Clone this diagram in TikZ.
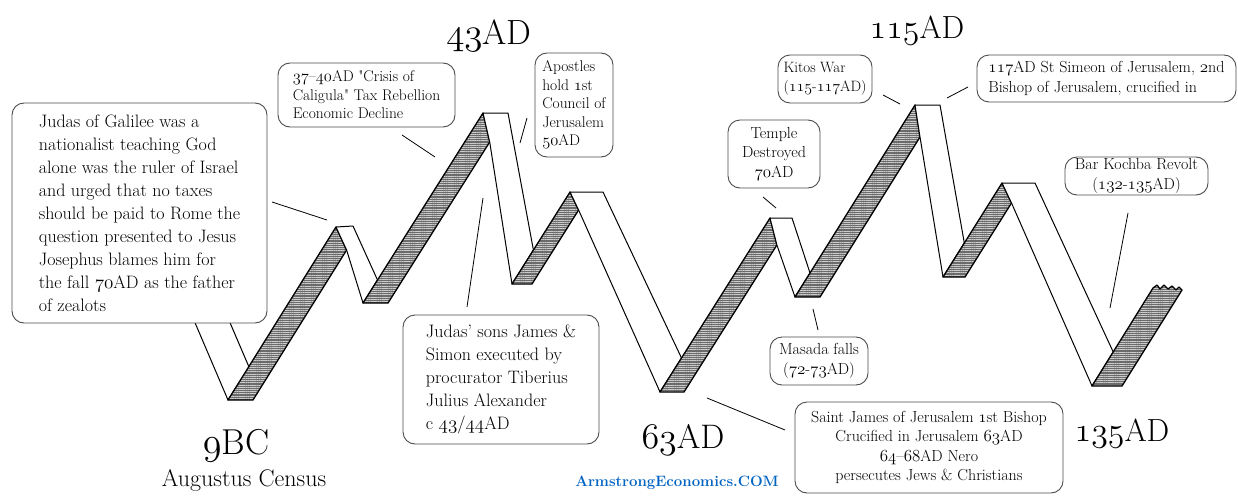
\RequirePackage{fix-cm}
\documentclass[tikz,border=0pt]{standalone}
\usetikzlibrary{patterns.meta}
\makeatletter
\newcommand\osn[1]{{\fontsize{\the\dimexpr 1.06\dimexpr\f@size pt\relax\relax}{\f@baselineskip}\usefont{OML}{cmm}{m}{it}#1}}
\makeatother
\newcommand\fsA{\fontsize{18}{23}\selectfont}
\newcommand\fsB{\fontsize{15.5}{18.5}\selectfont}
\newcommand\fsC{\fontsize{16}{19.5}\selectfont}
\newcommand\fsD{\fontsize{15}{19.5}\selectfont}
\definecolor{armblue}{RGB}{0,100,195}
\begin{document}
\begin{tikzpicture}[x=1pt,y=-1pt,
  note/.style={draw=black!70, line width=0.9pt, rounded corners=12pt, fill=white, inner sep=0pt, align=left},
  conn/.style={draw=black, line width=0.8pt},
  backside/.style={draw=black, line width=1.3pt, line join=round, preaction={fill=black!58}, pattern={Lines[angle=0,distance=2.2pt,line width=0.6pt]}, pattern color=white!80!black},
  frontside/.style={draw=black, line width=1pt, line join=round, fill=white},
  big/.style={inner sep=0pt, anchor=base}]
\fill[white] (0,0) rectangle (1238,495);
\useasboundingbox (0,0) rectangle (1238,495);

% ribbon
\path[frontside] (193,318) -- (228,318) -- (249,367) -- (228,400) -- cycle;
\path[backside] (228,400) -- (253,400) -- (346.6,250) -- (336,227) -- cycle;
\path[frontside] (336,227) -- (353,226) -- (377.5,280) -- (363,303) -- (346.6,250) -- cycle;
\path[backside] (363,303) -- (388,303) -- (489.7,142) -- (483,113) -- cycle;
\path[frontside] (483,113) -- (508,113) -- (533.4,250) -- (512,284) -- (489.7,142) -- cycle;
\path[backside] (512,284) -- (532,284) -- (578.6,210) -- (570,192) -- cycle;
\path[frontside] (570,192) -- (603,192) -- (681.5,358) -- (660,392) -- (578.6,210) -- cycle;
\path[backside] (660,392) -- (684,392) -- (776.9,245) -- (770,218) -- cycle;
\path[frontside] (770,218) -- (792,218) -- (810,273) -- (795,297) -- (776.9,245) -- cycle;
\path[backside] (795,297) -- (820,297) -- (920,137) -- (915,105) -- cycle;
\path[frontside] (915,105) -- (940,105) -- (964.3,243) -- (943,277) -- (920,137) -- cycle;
\path[backside] (943,277) -- (965,277) -- (1011.5,203) -- (1002,183) -- cycle;
\path[frontside] (1002,183) -- (1035,183) -- (1113.2,352) -- (1092,386) -- (1011.5,203) -- cycle;
\path[backside] (1092,386) -- (1122,386) -- (1182,290) -- (1179,287) -- (1176,290) -- (1172,286) -- (1168,289) -- (1164,285) -- (1160,289) -- (1157,285) -- (1153,288) -- cycle;

% boxes
\node[note, font=\fsA, minimum width=255pt, minimum height=220pt] (judas) at (139.5,213) {Judas of Galilee was a\\ nationalist teaching God\\ alone was the ruler of Israel\\ and urged that no taxes\\ should be paid to Rome the\\ question presented to Jesus\\ Josephus blames him for\\ the fall \osn{70}AD as the father\\ of zealots};
\node[note, font=\fsB, minimum width=177pt, minimum height=64pt] (caligula) at (366.5,95) {\osn{37}–\osn{40}AD \textquotedbl Crisis of\\ Caligula\textquotedbl\ Tax Rebellion\\ Economic Decline};
\node[note, font=\fsB, minimum width=78pt, minimum height=104pt] (apostles) at (574,105) {Apostles\\ hold \osn{1}st\\ Council of\\ Jerusalem\\ \osn{50}AD};
\node[note, font=\fsC, align=center, minimum width=92pt, minimum height=68pt] (temple) at (774,154) {Temple\\ Destroyed\\ \osn{70}AD};
\node[note, font=\fsD, minimum width=94pt, minimum height=48pt] (kitos) at (825,79) {Kitos War\\ (\osn{115}-\osn{117}AD)};
\node[note, font=\fsC, minimum width=259pt, minimum height=47pt] (simeon) at (1106.5,78.5) {\osn{117}AD St Simeon of Jerusalem, \osn{2}nd\\ Bishop of Jerusalem, crucified in};
\node[note, font=\fsC, align=center, minimum width=143pt, minimum height=38pt] (kochba) at (1136.5,176) {Bar Kochba Revolt\\ (\osn{132}-\osn{135}AD)};
\node[note, font=\fsA, minimum width=196pt, minimum height=129pt] (sons) at (501,379.5) {Judas' sons James \&\\ Simon executed by\\ procurator Tiberius\\ Julius Alexander\\ c \osn{43}/\osn{44}AD};
\node[note, font=\fsC, align=center, minimum width=98pt, minimum height=48pt] (masada) at (819,361) {Masada falls\\ (\osn{72}-\osn{73}AD)};
\node[note, font=\fsC, align=center, minimum width=268pt, minimum height=91pt] (james) at (929,447.5) {Saint James of Jerusalem \osn{1}st Bishop\\ Crucified in Jerusalem \osn{63}AD\\ \osn{64}–\osn{68}AD Nero\\ persecutes Jews \& Christians};

% big labels
\node[big, font=\fontsize{35}{40}\selectfont] (l43) at (489,45) {\osn{43}AD};
\node[big, font=\fontsize{32}{38}\selectfont] (l115) at (917,38) {\osn{115}AD};
\node[big, font=\fontsize{36}{42}\selectfont] (l9) at (236,454) {\osn{9}BC};
\node[big, font=\fontsize{24}{28}\selectfont] (census) at (244,486) {Augustus Census};
\node[big, font=\fontsize{34}{40}\selectfont] (l63) at (683,448) {\osn{63}AD};
\node[big, font=\fontsize{32}{38}\selectfont] (l135) at (1122,441) {\osn{135}AD};
\node[big, font=\fontsize{15}{18}\selectfont\bfseries, text=armblue] (brand) at (677,486) {ArmstrongEconomics.COM};

% connectors
\coordinate (a1) at (272,202); \coordinate (b1) at (327,220);
\coordinate (a2) at (402,135); \coordinate (b2) at (435,157);
\coordinate (a3) at (527,118); \coordinate (b3) at (520,143);
\coordinate (a4) at (763,197); \coordinate (b4) at (776,208);
\coordinate (a5) at (883,95);  \coordinate (b5) at (900,104);
\coordinate (a6) at (968,87);  \coordinate (b6) at (947,98);
\coordinate (a7) at (1128,213); \coordinate (b7) at (1110,308);
\coordinate (a8) at (467,307); \coordinate (b8) at (483,198);
\coordinate (a9) at (818,330); \coordinate (b9) at (813,309);
\coordinate (a10) at (785,430); \coordinate (b10) at (707,398);
\foreach \i in {1,...,10} {\draw[conn] (a\i) -- (b\i);}
\end{tikzpicture}
\end{document}
